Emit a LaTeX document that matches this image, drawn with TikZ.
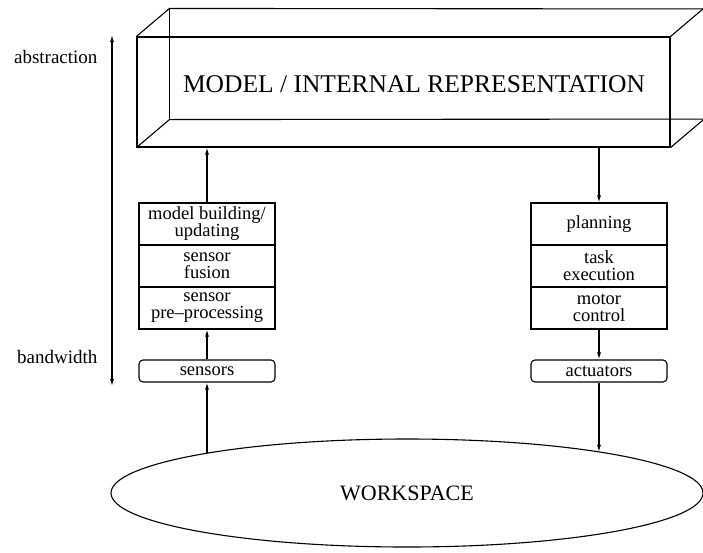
\documentclass[tikz,border=0pt]{standalone}
\usepackage{fontspec}
\setmainfont{Liberation Serif}
\usetikzlibrary{arrows.meta,shapes.geometric}
\begin{document}
\begin{tikzpicture}[x=1pt,y=-1pt,line width=1.1pt,
  tip/.style={-{Latex[length=7pt,width=4pt]}},
  dbl/.style={{Latex[length=7pt,width=4pt]}-{Latex[length=7pt,width=4pt]}},
  layer/.style={draw,minimum width=136pt,minimum height=42pt,inner sep=0pt,
    align=center,font=\fontsize{18.5}{17}\selectfont},
  io/.style={draw,rounded corners=4pt,minimum width=136pt,minimum height=22pt,
    inner sep=0pt,font=\fontsize{18.5}{17}\selectfont},
  side/.style={anchor=east,inner sep=0pt,font=\fontsize{19}{20}\selectfont}]
\clip (0,0) rectangle (703,552);
\useasboundingbox (0,0) rectangle (703,552);

% model block drawn as a wireframe prism
\node[draw,minimum width=533pt,minimum height=110pt,inner sep=0pt] (model) at (403.5,92) {};
\node[inner sep=0pt,font=\fontsize{25.5}{28}\selectfont] (title) at (414,84)
  {MODEL / INTERNAL REPRESENTATION};
\draw (model.north west) -- ++(33,-28) coordinate (bnw) -- (760,9);
\draw (model.south west) -- ++(33,-28) coordinate (bsw) -- (760,119);
\draw (bnw) -- (bsw);
\draw (model.north east) -- ++(33,-28);
\draw (model.south east) -- ++(33,-28);

% perception stack
\node[layer] (build) at (207,224) {model building/\\updating};
\node[layer] (fusion) at (207,266) {sensor\\fusion};
\node[layer] (pre) at (207,308) {sensor\\pre--processing};
\node[io] (sensors) at (207,371) {sensors};

% action stack
\node[layer] (plan) at (599,224) {planning};
\node[layer] (task) at (599,266) {task\\execution};
\node[layer] (motor) at (599,308) {motor\\control};
\node[io] (act) at (599,371) {actuators};

% the environment
\node[draw,ellipse,minimum width=592pt,minimum height=108pt,inner sep=0pt,
  font=\fontsize{22}{24}\selectfont] (work) at (407,493) {WORKSPACE};
% points where the two vertical links meet the rim of the ellipse
\coordinate (rimL) at (207,453.3);
\coordinate (rimR) at (599,451.9);

% data flow
\draw[tip] (rimL) -- (sensors.south);
\draw[tip] (sensors.north) -- (pre.south);
\draw[tip] (build.north) -- (model.south -| build);
\draw[tip] (model.south -| plan) -- (plan.north);
\draw[tip] (motor.south) -- (act.north);
\draw[tip] (act.south) -- (rimR);

% abstraction / bandwidth scale
\coordinate (top) at (112,35);
\coordinate (bot) at (112,386);
\draw[dbl] (bot) -- (top);
\node[side] (abs) at (98,57) {abstraction};
\node[side] (bw) at (98,357) {bandwidth};
\end{tikzpicture}
\end{document}
